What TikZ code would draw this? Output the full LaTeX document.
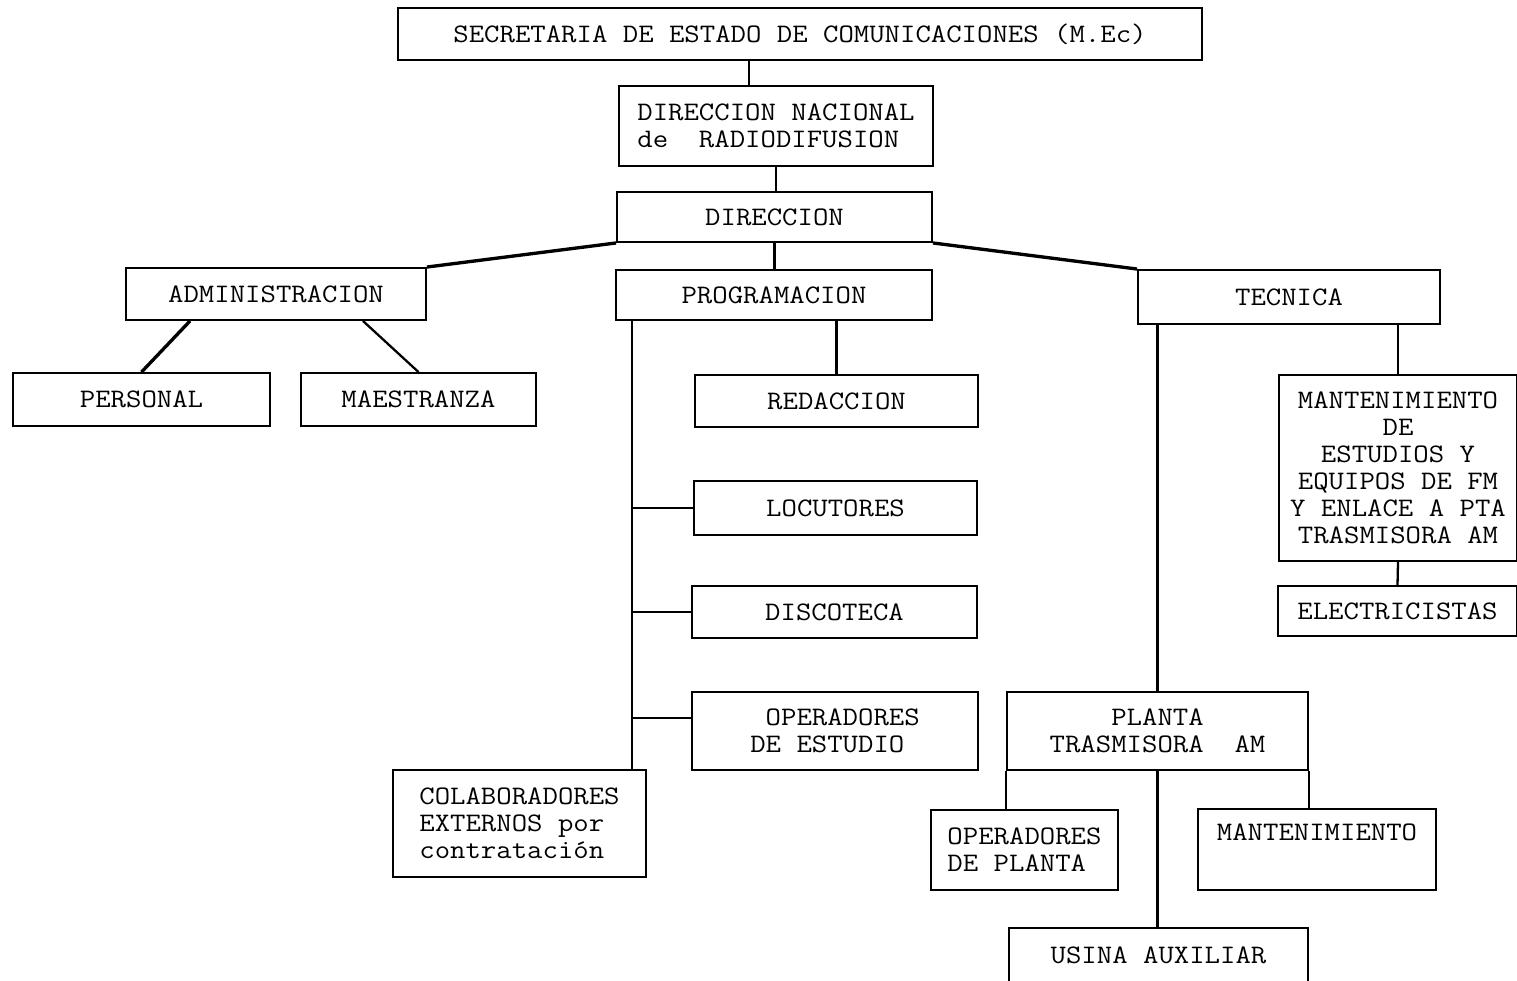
\documentclass[tikz,border=0pt]{standalone}
\usepackage{fontspec}
\setmonofont{Latin Modern Mono}[FakeStretch=1.12]

\begin{document}
\begin{tikzpicture}[x=0.02cm, y=-0.02cm,
	box/.style={draw, line width=1.1pt, inner sep=0pt, font=\ttfamily\fontsize{15.2}{15.3}\selectfont},
	link/.style={line width=1.3pt},
	mainlink/.style={line width=1.9pt}]
	\useasboundingbox (0,0) rectangle (1517,980);
	%Top line
		%Secretaria
		\node[box, minimum width=16.08cm, minimum height=1.04cm] (sec) at (800,34) {SECRETARIA DE ESTADO DE COMUNICACIONES (M.Ec)};
		%Direccion nacional
		\node[box, minimum width=6.28cm, minimum height=1.6cm, align=left] (dnr) at (776,126) {DIRECCION NACIONAL\\de\ \ RADIODIFUSION};
		%Direccion
		\node[box, minimum width=6.3cm, minimum height=1.0cm] (dir) at (774.5,217) {DIRECCION};
	%Second line
		\node[box, minimum width=6.0cm, minimum height=1.04cm] (adm) at (276,294) {ADMINISTRACION};
		\node[box, minimum width=6.32cm, minimum height=1.0cm] (prog) at (774,295) {PROGRAMACION};
		\node[box, minimum width=6.04cm, minimum height=1.08cm] (tec) at (1289,297) {TECNICA};
	%Administracion
		\node[box, minimum width=5.14cm, minimum height=1.06cm] (pers) at (141.5,399.5) {PERSONAL};
		\node[box, minimum width=4.7cm, minimum height=1.06cm] (maes) at (418.5,399.5) {MAESTRANZA};
	%Programacion
		\node[box, minimum width=5.66cm, minimum height=1.04cm] (red) at (836.5,401) {REDACCION};
		\node[box, minimum width=5.66cm, minimum height=1.08cm] (loc) at (835.5,508) {LOCUTORES};
		\node[box, minimum width=5.7cm, minimum height=1.04cm] (disc) at (834.5,612) {DISCOTECA};
		\node[box, minimum width=5.72cm, minimum height=1.56cm, align=left] (opest) at (835,731) {\ OPERADORES\\DE ESTUDIO};
		\node[box, minimum width=5.06cm, minimum height=2.14cm, align=left] (colab) at (519.5,823.5) {COLABORADORES\\EXTERNOS por\\contratación};
	%Tecnica
		\node[box, minimum width=4.76cm, minimum height=3.72cm, align=center] (mant) at (1398,468) {MANTENIMIENTO\\DE\\ESTUDIOS Y\\EQUIPOS DE FM\\Y ENLACE A PTA\\TRASMISORA AM};
		\node[box, minimum width=4.78cm, minimum height=1.0cm] (elec) at (1397.5,611) {ELECTRICISTAS};
		\node[box, minimum width=6.02cm, minimum height=1.56cm, align=center] (planta) at (1157.5,731) {PLANTA\\TRASMISORA\ \ AM};
		\node[box, minimum width=3.74cm, minimum height=1.6cm, align=left] (opplan) at (1024.5,850) {OPERADORES\\DE PLANTA};
		\node[box, minimum width=4.76cm, minimum height=1.62cm, align=center] (mantp) at (1317,849.5) {MANTENIMIENTO\\\strut};
		\node[box, minimum width=5.98cm, minimum height=1.08cm] (usina) at (1158.5,955) {USINA AUXILIAR};
	%Top connectors
		\draw[link] ([xshift=-0.54cm]dnr.north) -- ([xshift=-0.54cm]dnr.north |- sec.south);
		\draw[link] (dnr.south) -- (dnr.south |- dir.north);
		\draw[link] (dir.south) -- (dir.south |- prog.north);
		\draw[mainlink] (dir.south west) -- (adm.north east);
		\draw[mainlink] (dir.south east) -- (tec.north west);
	%Administracion connectors
		\draw[mainlink] ([xshift=-1.72cm]adm.south) -- (pers.north);
		\draw[link] ([xshift=1.74cm]adm.south) -- (maes.north);
	%Programacion connectors
		\draw[link] ([xshift=-2.84cm]prog.south) coordinate (ptrunk) -- (ptrunk |- colab.north);
		\draw[link] (red.north) -- (red.north |- prog.south);
		\draw[link] (ptrunk |- loc.west) -- (loc.west);
		\draw[link] (ptrunk |- disc.west) -- (disc.west);
		\coordinate (opin) at ([yshift=0.26cm]opest.west);
		\draw[link] (ptrunk |- opin) -- (opin);
	%Tecnica connectors
		\draw[link] (planta.north |- tec.south) -- (planta.north);
		\draw[link] (mant.north |- tec.south) -- (mant.north);
		\draw[link] (mant.south) -- (elec.north);
		\draw[link] (planta.south) -- (planta.south |- usina.north);
		\draw[link] (planta.south west) -- (planta.south west |- opplan.north);
		\draw[link] (planta.south east) -- (planta.south east |- mantp.north);
\end{tikzpicture}
\end{document}
